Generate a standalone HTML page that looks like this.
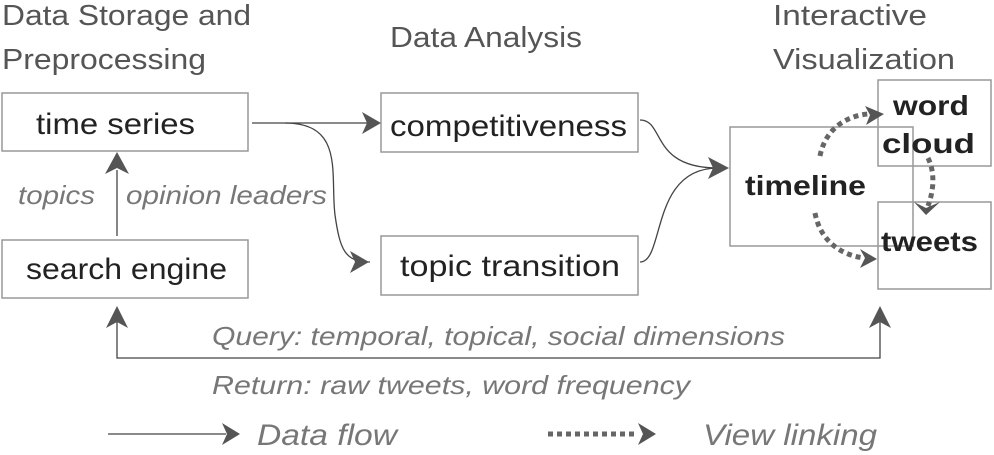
<!DOCTYPE html>
<html><head><style>
html,body{margin:0;padding:0;background:#fff;width:994px;height:455px;overflow:hidden}
svg{display:block}
.h{font-family:"Liberation Sans",sans-serif;font-size:29px;fill:#555}
.b{font-family:"Liberation Sans",sans-serif;font-size:30px;fill:#222}
.bb{font-family:"Liberation Sans",sans-serif;font-size:28px;font-weight:bold;fill:#222}
.i{font-family:"Liberation Sans",sans-serif;font-size:26px;font-style:italic;fill:#777}
.i2{font-family:"Liberation Sans",sans-serif;font-size:30px;font-style:italic;fill:#777}
rect{fill:none;stroke:#999;stroke-width:1.5}
</style></head><body>
<svg width="994" height="455" viewBox="0 0 994 455">
<text class="h" x="2" y="25" textLength="249" lengthAdjust="spacingAndGlyphs">Data Storage and</text>
<text class="h" x="2" y="69" textLength="204" lengthAdjust="spacingAndGlyphs">Preprocessing</text>
<text class="h" x="390" y="47" textLength="192" lengthAdjust="spacingAndGlyphs">Data Analysis</text>
<text class="h" x="773" y="25" textLength="154" lengthAdjust="spacingAndGlyphs">Interactive</text>
<text class="h" x="773" y="69" textLength="182" lengthAdjust="spacingAndGlyphs">Visualization</text>

<rect x="2" y="93" width="246" height="58"/>
<rect x="2" y="240" width="246" height="58"/>
<rect x="381" y="93" width="257" height="59"/>
<rect x="381" y="236" width="257" height="59"/>
<rect x="730" y="127" width="183" height="119"/>
<rect x="878" y="80" width="113" height="86"/>
<rect x="878" y="202" width="113" height="87"/>

<text class="b" x="36" y="134" textLength="159" lengthAdjust="spacingAndGlyphs">time series</text>
<text class="b" x="26" y="279" textLength="201" lengthAdjust="spacingAndGlyphs">search engine</text>
<text class="b" x="390" y="136" textLength="237" lengthAdjust="spacingAndGlyphs">competitiveness</text>
<text class="b" x="400" y="276" textLength="220" lengthAdjust="spacingAndGlyphs">topic transition</text>
<text class="bb" x="745" y="195" textLength="121" lengthAdjust="spacingAndGlyphs">timeline</text>
<text class="bb" x="893" y="115" textLength="76" lengthAdjust="spacingAndGlyphs">word</text>
<text class="bb" x="882" y="153" textLength="93" lengthAdjust="spacingAndGlyphs">cloud</text>
<text class="bb" x="881" y="251" textLength="97" lengthAdjust="spacingAndGlyphs">tweets</text>

<text class="i" x="18" y="204" textLength="77" lengthAdjust="spacingAndGlyphs">topics</text>
<text class="i" x="126" y="204" textLength="201" lengthAdjust="spacingAndGlyphs">opinion leaders</text>
<text class="i" x="212" y="345" textLength="573" lengthAdjust="spacingAndGlyphs">Query: temporal, topical, social dimensions</text>
<text class="i" x="212" y="394" textLength="478" lengthAdjust="spacingAndGlyphs">Return: raw tweets, word frequency</text>
<text class="i2" x="257" y="445" textLength="140" lengthAdjust="spacingAndGlyphs">Data flow</text>
<text class="i2" x="703" y="445" textLength="174" lengthAdjust="spacingAndGlyphs">View linking</text>

<g stroke="#444" stroke-width="1.3" fill="none">
<line x1="117" y1="236" x2="117" y2="170"/>
<line x1="252" y1="123" x2="370" y2="123"/>
<path d="M285 123 C345 123,330 175,335 215 C340 250,345 262,370 262"/>
<path d="M640 120 C665 120,650 168,718 168"/>
<path d="M640 262 C665 262,650 168,718 168"/>
<polyline points="117,315 117,358 880,358 880,315"/>
<line x1="108" y1="434" x2="226" y2="434"/>
</g>
<g fill="#555">
<polygon points="105,174 117,152 129,174 117,168"/>
<polygon points="362,112 381,123 362,134 367,123"/>
<polygon points="350,251 369,262 350,273 355,262"/>
<polygon points="708,157 729,168 708,179 713,168"/>
<polygon points="106,328 117,306 128,328 117,322"/>
<polygon points="869,328 880,306 891,328 880,322"/>
<polygon points="222,423 240,434 222,445 227,434"/>
<polygon points="638,423 656,434 638,445 643,434"/>
<polygon points="865,106 884,114 866,125 870,115"/>
<polygon points="914,202 926,215 940,202 926,208"/>
<polygon points="860,249 877,259 860,268 865,258"/>
</g>
<g stroke="#666" stroke-width="5" fill="none" stroke-dasharray="5 4">
<path d="M820 156 C825 130,845 116,868 114"/>
<path d="M928 158 C935 172,934 190,928 206"/>
<path d="M815 213 C820 240,840 255,864 258"/>
<line x1="548" y1="434" x2="638" y2="434"/>
</g>
</svg>
</body></html>
